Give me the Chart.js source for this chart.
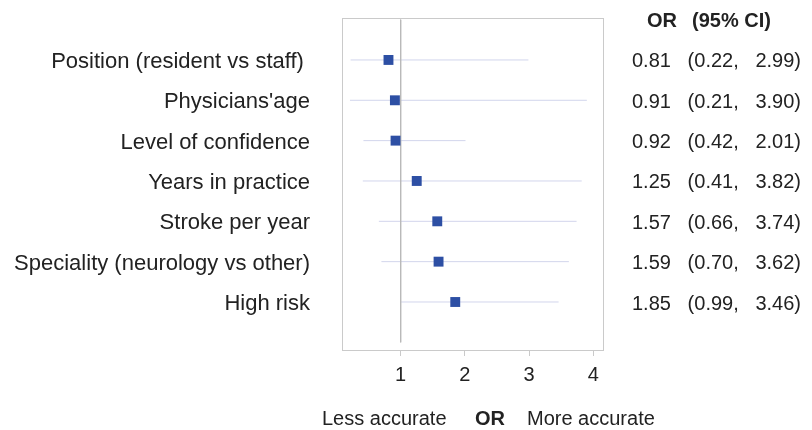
<!DOCTYPE html>
<html lang="en">
<head>
  <meta charset="UTF-8">
  <title>Odds ratios forest plot</title>
  <script src="https://cdn.jsdelivr.net/npm/chart.js"></script>
  <style>
    body {
      margin: 0;
      background: #ffffff;
    }

    .chart-container {
      position: relative;
      width: 812px;
      height: 430px;
    }
  </style>
</head>
<body>
  <div class="chart-container">
    <canvas id="forestChart"></canvas>
  </div>

  <script>
    // Factors, odds ratios and 95% confidence limits
    const factors = [
      "Position (resident vs staff) ",
      "Physicians'age",
      "Level of confidence",
      "Years in practice",
      "Stroke per year",
      "Speciality (neurology vs other)",
      "High risk"
    ];
    const oddsRatios = [0.81, 0.91, 0.92, 1.25, 1.57, 1.59, 1.85];
    const ciLower = [0.22, 0.21, 0.42, 0.41, 0.66, 0.70, 0.99];
    const ciUpper = [2.99, 3.90, 2.01, 3.82, 3.74, 3.62, 3.46];
    const xTickValues = [1, 2, 3, 4];

    const textColor = "#222222";
    const fontName = "'Liberation Sans', Arial, sans-serif";

    // one line dataset per confidence interval
    const ciDatasets = factors.map((name, i) => ({
      type: "scatter",
      showLine: true,
      data: [{ x: ciLower[i], y: i + 1 }, { x: ciUpper[i], y: i + 1 }],
      borderColor: "#d2d5ec",
      borderWidth: 1,
      pointRadius: 0,
      order: 2
    }));

    // vertical line of no effect at OR = 1
    const refLine = {
      type: "scatter",
      showLine: true,
      data: [{ x: 1, y: 0 }, { x: 1, y: 8 }],
      borderColor: "#b9b9b9",
      borderWidth: 1,
      pointRadius: 0,
      order: 1
    };

    const pointSet = {
      type: "scatter",
      data: factors.map((name, i) => ({ x: oddsRatios[i], y: i + 1 })),
      pointStyle: "rect",
      pointRadius: 7,
      backgroundColor: "#2d4fa4",
      borderColor: "#2d4fa4",
      borderWidth: 0,
      order: 0
    };

    function rowTicks(axis) {
      axis.ticks = factors.map((name, i) => ({ value: i + 1 }));
    }

    // fixed axis width, and no extra top/bottom room for the labels
    function fixWidth(width) {
      return axis => {
        axis.width = width;
        axis.paddingTop = 0;
        axis.paddingBottom = 0;
      };
    }

    function orText(i) {
      return oddsRatios[i].toFixed(2) + "   (" + ciLower[i].toFixed(2) + ",   " + ciUpper[i].toFixed(2) + ")";
    }

    // frame round the plot plus header and footer text
    const decorations = {
      id: "decorations",
      beforeDatasetsDraw(chart) {
        const { ctx, chartArea } = chart;
        ctx.save();
        ctx.strokeStyle = "#cacaca";
        ctx.lineWidth = 1;
        ctx.strokeRect(chartArea.left + 0.5, chartArea.top + 0.5,
          chartArea.right - chartArea.left - 1, chartArea.bottom - chartArea.top);
        ctx.restore();
      },
      afterDraw(chart) {
        const ctx = chart.ctx;
        ctx.save();
        ctx.fillStyle = textColor;
        ctx.textBaseline = "alphabetic";
        ctx.textAlign = "left";

        ctx.font = "bold 20px " + fontName;
        ctx.fillText("OR", 647, 27);
        ctx.fillText("(95% CI)", 692, 27);

        ctx.font = "20px " + fontName;
        ctx.fillText("Less accurate", 322, 425);
        ctx.fillText("More accurate", 527, 425);
        ctx.font = "bold 20px " + fontName;
        ctx.fillText("OR", 475, 425);
        ctx.restore();
      }
    };

    new Chart(document.getElementById("forestChart"), {
      type: "scatter",
      data: {
        datasets: [pointSet, refLine, ...ciDatasets]
      },
      options: {
        responsive: true,
        maintainAspectRatio: false,
        animation: false,
        layout: { padding: { top: 18, left: 0, right: 0, bottom: 0 } },
        plugins: {
          legend: { display: false },
          tooltip: { enabled: false }
        },
        scales: {
          x: {
            type: "linear",
            min: 0.086,
            max: 4.167,
            afterBuildTicks: axis => { axis.ticks = xTickValues.map(v => ({ value: v })); },
            afterFit: axis => { axis.height = 80; },
            grid: {
              drawOnChartArea: false,
              drawTicks: true,
              tickLength: 6,
              color: "#cacaca"
            },
            border: { display: false },
            ticks: {
              padding: 7,
              color: textColor,
              font: { family: fontName, size: 20 }
            }
          },
          y: {
            type: "linear",
            position: "left",
            reverse: true,
            min: -0.04,
            max: 8.19,
            afterBuildTicks: rowTicks,
            afterFit: fixWidth(342),
            grid: { display: false, drawTicks: false },
            border: { display: false },
            ticks: {
              padding: 32,
              labelOffset: 2,
              color: textColor,
              font: { family: fontName, size: 22 },
              callback: value => factors[value - 1] || ""
            }
          },
          y2: {
            type: "linear",
            position: "right",
            reverse: true,
            min: -0.04,
            max: 8.19,
            afterBuildTicks: rowTicks,
            afterFit: fixWidth(208),
            grid: { display: false, drawTicks: false },
            border: { display: false },
            ticks: {
              padding: 28,
              labelOffset: 2,
              color: textColor,
              font: { family: fontName, size: 20 },
              callback: value => orText(value - 1)
            }
          }
        }
      },
      plugins: [decorations]
    });
  </script>
</body>
</html>
